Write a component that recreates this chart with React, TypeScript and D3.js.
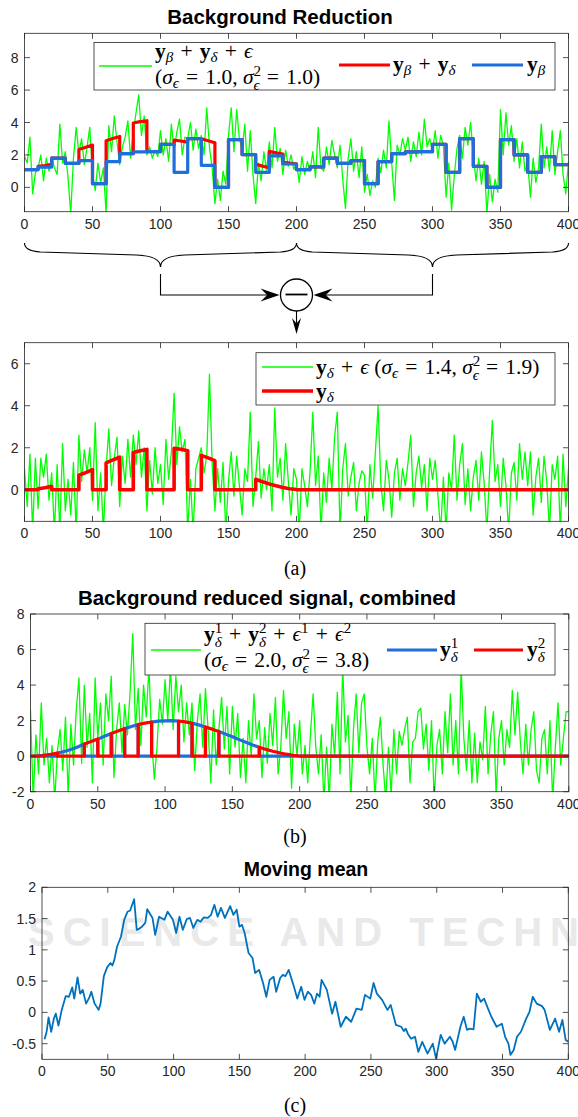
import React from 'react';
import * as d3 from 'd3';

// ---- data ----
const xTicks = [0, 50, 100, 150, 200, 250, 300, 350, 400];

// background y_beta, one level per block of 10 samples
const blockLevels = [
  1.1, 1.25, 1.8, 1.48, 1.65, 0.23, 1.59, 2.08, 2.19, 2.2,
  2.65, 0.93, 3.0, 1.36, 0.0, 2.95, 2.02, 0.93, 1.94, 1.44,
  1.1, 1.26, 1.8, 1.48, 1.65, 0.23, 1.59, 2.08, 2.19, 2.2,
  2.65, 0.93, 3.0, 1.3, 0.0, 2.95, 2.0, 0.93, 1.9, 1.4,
];

// signal envelope, x = 0..200 in steps of 5
const deltaCurve = [
  0.0, 0.02, 0.05, 0.1, 0.17, 0.26, 0.37, 0.52, 0.69, 0.82,
  0.96, 1.12, 1.28, 1.42, 1.55, 1.67, 1.78, 1.86, 1.92, 1.97,
  1.99, 2.0, 1.98, 1.93, 1.86, 1.76, 1.64, 1.52, 1.39, 1.24,
  1.09, 0.93, 0.78, 0.63, 0.5, 0.38, 0.28, 0.19, 0.11, 0.05, 0.01,
];

// blocks (of 10 samples) where y_delta / y_delta^2 is on
const deltaBlocks = [1, 4, 6, 8, 11, 13, 17, 18, 19];

// noisy signals, x = 0..400 in steps of 2
const noiseA = [
  1.9, 1.5, 3.1, -0.4, 0.9, 1.2, 2.0, 0.4, 1.8, 1.0,
  1.9, 1.2, 0.8, 3.9, 1.5, 2.2, 0.6, -1.6, 1.8, 3.7,
  2.1, 3.0, 1.4, 2.5, 3.7, 0.8, -0.2, 1.5, 0.3, 1.2,
  -1.6, 3.8, 2.2, 4.4, 2.8, 1.4, 2.5, 3.1, 4.1, 1.8,
  3.4, 4.6, 5.7, 3.2, 4.4, 2.0, 2.5, 1.8, 2.3, 1.9,
  3.5, 2.0, 3.0, 1.6, 3.9, 2.3, 3.4, 4.2, 2.0, 3.1,
  3.0, 4.0, 2.3, 3.6, 2.4, 3.2, 2.0, 4.9, 2.5, 1.2,
  -1.0, 0.5, -0.8, 1.0, 0.2, 3.2, 4.9, 2.2, 4.8, 3.0,
  2.3, 3.9, 1.0, 3.5, 0.8, -1.0, 1.5, 0.4, 2.2, 1.0,
  2.8, 1.2, 3.7, 1.6, 2.4, 0.8, 2.3, 1.3, 2.0, 1.1,
  1.5, 0.3, 1.9, 0.8, 1.6, 1.0, 2.2, 0.6, 3.7, 1.2,
  1.0, 2.5, 1.4, 2.9, 2.0, 1.2, 2.6, 0.5, -1.3, 1.8,
  3.0, 1.0, 2.2, 0.6, 2.5, -0.3, 0.8, -0.5, 0.4, 0.0,
  1.8, 0.9, 2.3, 1.2, 4.1, 1.5, -0.8, 2.6, 2.0, 3.0,
  2.3, 3.1, 1.6, 2.8, 1.9, 3.4, 2.0, 4.2, 2.5, 3.0,
  2.2, 3.5, 1.8, 3.2, 2.6, -0.6, 1.5, -1.4, 0.7, 2.4,
  3.2, 1.8, 3.7, 2.6, 4.0, 2.0, 0.4, 1.8, 0.2, 1.6,
  -1.6, 0.8, -0.9, 0.5, -0.3, 4.8, 2.0, 4.6, 2.6, 3.8,
  1.6, 3.0, 1.2, 2.8, 1.0, 1.5, -0.6, 1.8, 0.3, 1.2,
  3.9, 1.2, 2.5, 1.0, 3.5, 0.8, 2.2, 3.5, 0.8, -0.4,
  1.6,
];

const noiseB = [
  1.0, -0.8, 1.7, -2.0, 1.5, -0.9, 1.5, 0.6, 1.7, -0.5,
  0.8, -2.0, 1.2, -2.0, 2.2, -1.0, 0.5, -1.2, 1.3, -2.0,
  2.6, 0.4, 1.9, 0.8, 2.0, -0.5, 3.2, -1.0, 0.8, -2.0,
  1.0, 2.9, 0.2, 1.5, 2.5, -0.8, 1.6, 0.3, 2.4, 0.6,
  2.6, 1.2, 2.8, 0.6, 2.0, -1.0, 1.4, -0.2, 2.0, 0.3,
  1.2, -0.7, 2.4, 0.5, 1.8, 4.6, 1.2, 3.0, 1.8, 2.4,
  -2.0, 0.5, -2.0, 1.0, 1.5, 2.0, 0.8, 1.6, 5.5, 1.2,
  -1.0, 1.0, -0.6, 1.3, -2.0, 0.4, 1.8, -0.3, 1.6, 0.2,
  -1.2, 1.0, 0.4, 3.7, -0.8, 0.6, 2.3, -0.4, 1.0, 0.0,
  1.2, -1.0, 3.9, 0.6, 1.5, -0.5, 2.2, 0.4, -1.2, 1.0,
  0.5, -2.0, 1.0, 0.2, -0.8, 0.9, 3.7, 0.2, 1.6, -2.0,
  0.8, -0.6, 1.5, 0.0, 2.5, 3.7, -2.0, 1.0, 2.2, -0.3,
  0.6, 1.3, -1.0, 0.3, 0.9, 0.7, -2.0, 1.2, -0.4, 1.8,
  4.0, 0.3, -1.0, 1.4, 0.5, -1.3, 0.8, 1.5, -0.5, 1.0,
  0.2, 1.3, 2.6, -0.8, 0.8, 1.6, 0.1, 1.2, -1.0, 1.5,
  0.5, 1.4, -0.3, -2.0, 0.6, -2.0, 0.8, 0.0, 2.6, -0.5,
  1.2, 2.2, -0.7, 1.0, -1.0, 0.6, 1.4, -0.5, 1.8, 0.3,
  -2.0, 0.9, 3.3, 0.4, 1.2, -0.8, 1.5, 0.2, -2.0, 0.8,
  1.3, -0.5, 2.2, 0.5, 1.8, 0.2, 1.8, -1.2, 0.6, 1.5,
  -0.6, 1.6, 0.4, -2.0, 1.2, 0.5, 1.6, -2.0, 1.7, -0.8,
  1.0,
];

const noiseC = [
  2.6, -2.5, 1.2, -1.0, 3.0, -0.5, 1.0, -1.5, 0.6, -2.5,
  0.3, 1.5, -0.8, 2.2, -2.2, 1.8, -0.5, 2.6, 4.4, -0.4,
  4.0, 0.5, 2.4, -1.5, 4.4, 1.0, 3.0, -0.5, 3.5, 2.0,
  4.5, -1.2, 1.5, 3.0, 0.2, 2.9, 1.2, 3.6, 6.9, 1.5,
  3.8, 0.6, 4.0, 2.2, 5.0, 1.0, -1.3, 0.5, 3.2, 1.8,
  4.3, 2.0, 5.0, 1.5, 4.5, 2.5, 4.0, 0.8, 3.0, 1.2,
  3.0, -0.8, 2.0, 3.5, 0.5, 3.8, 1.5, -1.5, 2.6, -0.5,
  1.5, 3.3, 0.4, 2.8, -1.0, 2.8, 0.5, 2.4, -1.2, 1.0,
  -1.5, 2.0, 0.0, 3.5, 1.0, 2.0, -1.2, 1.6, -0.4, 2.4,
  0.6, 3.3, -1.0, 0.5, 3.7, 1.0, 2.5, -1.8, 1.8, 0.0,
  2.0, -1.0, 0.6, -1.5, 1.2, 3.5, 0.5, -1.0, 1.2, -2.5,
  0.5, -2.5, 1.8, 0.0, 3.6, -1.0, 5.0, 0.8, 2.3, -2.5,
  1.5, 3.5, 0.2, 3.0, 3.5, 0.5, -1.0, 1.0, -2.5, 0.8,
  2.2, -0.5, -2.5, 0.5, -2.2, 1.5, -1.0, 1.4, 0.6, 1.5,
  2.2, -1.5, 0.8, 1.0, 2.5, 2.7, 0.4, 1.8, -0.8, 2.0,
  -2.5, 0.6, 1.5, -1.0, 2.5, 0.2, 3.5, -0.5, 2.0, -1.0,
  5.0, 1.0, -0.8, 2.0, -1.5, 1.3, -1.5, 0.8, -0.2, 2.8,
  -1.0, 1.2, 2.5, -2.2, 1.0, 2.0, -0.5, 1.5, 0.5, 3.7,
  1.2, 3.6, 0.8, -1.0, 1.8, -0.5, 1.5, 2.5, -0.8, -1.5,
  1.0, 1.5, -1.0, 2.0, -2.5, 0.5, 3.0, -0.5, 1.0, 2.5,
  2.5,
];

// moving mean
const meanX = [
  2, 3.5, 5, 7, 9, 10.5, 12.5, 15, 18, 20.5,
  23, 24.5, 27, 29, 31, 33.5, 36, 37.5, 40, 43,
  44.5, 47, 49.5, 52, 53.5, 55, 57, 60, 62.5, 65,
  67, 70, 72, 74, 76, 78.5, 80, 84, 86, 89,
  93, 95.5, 99.5, 102, 104.5, 107, 110, 112.5, 115, 118,
  120.5, 123, 126, 128.5, 131, 133.5, 136, 139, 143, 145.5,
  148, 150, 152, 154, 157, 160, 162, 165, 168, 170.5,
  173, 176, 178, 181, 183, 185, 187.5, 191.5, 194, 197,
  199.5, 202, 204.5, 207, 209, 211, 212.5, 216.5, 220.5, 223,
  227, 231, 235, 239, 243, 245.5, 249.5, 252, 254.5, 258.5,
  262.5, 265, 269, 273, 275, 276.5, 278, 280.5, 283.5, 286,
  289, 293, 297, 299.5, 303, 306, 310, 312, 314, 318,
  320.5, 323, 325, 328, 330.5, 333.5, 336, 339, 341.5, 345.5,
  349.5, 352, 354.5, 356, 358.5, 361, 364, 368, 370.5, 373,
  376, 380, 382, 386, 390, 393, 395.5, 398, 400,
];
const meanY = [
  -0.43, -0.31, -0.08, -0.31, -0.1, -0.02, -0.21, 0.04, 0.26, 0.25,
  0.4, 0.22, 0.56, 0.3, 0.36, 0.14, 0.24, 0.33, 0.14, 0.04,
  0.14, 0.58, 0.72, 0.79, 0.75, 0.84, 1.05, 1.21, 1.48, 1.61,
  1.63, 1.81, 1.32, 1.34, 1.37, 1.43, 1.65, 1.51, 1.24, 1.53,
  1.48, 1.61, 1.48, 1.27, 1.53, 1.32, 1.49, 1.51, 1.35, 1.48,
  1.45, 1.52, 1.51, 1.56, 1.72, 1.53, 1.67, 1.51, 1.7, 1.56,
  1.64, 1.37, 1.4, 1.27, 0.95, 0.87, 0.63, 0.68, 0.47, 0.25,
  0.52, 0.57, 0.33, 0.55, 0.6, 0.58, 0.68, 0.41, 0.22, 0.41,
  0.2, 0.33, 0.28, 0.14, 0.3, 0.25, 0.52, 0.36, -0.02, 0.17,
  -0.23, -0.07, -0.15, 0.06, 0.04, 0.28, 0.22, 0.47, 0.3, 0.2,
  0.04, 0.12, -0.2, -0.23, -0.3, -0.26, -0.34, -0.42, -0.39, -0.63,
  -0.47, -0.66, -0.5, -0.74, -0.36, -0.5, -0.39, -0.46, -0.6, -0.23,
  -0.07, -0.28, -0.26, -0.27, 0.3, 0.17, 0.22, 0.06, -0.07, -0.23,
  -0.18, -0.39, -0.5, -0.68, -0.6, -0.39, -0.31, -0.1, 0.01, 0.25,
  0.14, 0.1, 0.04, -0.28, -0.1, -0.31, -0.12, -0.44, -0.47,
];

// ---- styling ----
const SANS = '"Liberation Sans", Arial, Helvetica, sans-serif';
const SERIF = '"Liberation Serif", "Times New Roman", "DejaVu Serif", serif';
const AX = '#262626';
const GREEN = '#00ff00';
const RED = '#ff0000';
const BLUE = '#1e6fdc';
const MBLUE = '#0072bd';
const LEG = 21.5; // legend font size
const SP = '\u2004'; // math spacing around + and =

type Pt = [number, number];
type Scale = d3.ScaleLinear<number, number>;

const env = (i: number) => (i < deltaCurve.length ? deltaCurve[i] : 0);

// y_delta with vertical jumps at block edges; on(b) says if block b carries the signal
function deltaPoints(on: (b: number) => boolean, base = false): Pt[] {
  const pts: Pt[] = [];
  blockLevels.forEach((lvl, b) => {
    const add = base ? lvl : 0;
    if (on(b)) {
      pts.push([b * 10, env(2 * b) + add], [b * 10 + 5, env(2 * b + 1) + add], [b * 10 + 10, env(2 * b + 2) + add]);
    } else {
      pts.push([b * 10, add], [b * 10 + 10, add]);
    }
  });
  return pts;
}

const levelPoints = (): Pt[] => [
  ...blockLevels.map((v, i) => [i * 10, v] as Pt),
  [400, blockLevels[blockLevels.length - 1]],
];
const noisePoints = (arr: number[]): Pt[] => arr.map((v, i) => [i * 2, v]);

function Frame({ x, y, yTicks, fmt = String }: { x: Scale; y: Scale; yTicks: number[]; fmt?: (v: number) => string }) {
  const [l, r] = x.range();
  const [b, t] = y.range();
  const tk = 5.5;
  return (
    <g stroke={AX} strokeWidth={0.8}>
      <rect x={l} y={t} width={r - l} height={b - t} fill="none" />
      {xTicks.map(v => (
        <g key={'x' + v}>
          <line x1={x(v)} x2={x(v)} y1={b} y2={b - tk} />
          <line x1={x(v)} x2={x(v)} y1={t} y2={t + tk} />
          <text x={x(v)} y={b + 17} textAnchor="middle" stroke="none" fill={AX} fontSize={14} fontFamily={SANS}>{v}</text>
        </g>
      ))}
      {yTicks.map(v => (
        <g key={'y' + v}>
          <line x1={l} x2={l + tk} y1={y(v)} y2={y(v)} />
          <line x1={r} x2={r - tk} y1={y(v)} y2={y(v)} />
          <text x={l - 6} y={y(v) + 5} textAnchor="end" stroke="none" fill={AX} fontSize={14} fontFamily={SANS}>{fmt(v)}</text>
        </g>
      ))}
    </g>
  );
}

type Tok = { s: string; w?: 'b' | 'i'; sub?: string; sup?: string };

function MathText({ x, y, toks, size = LEG }: { x: number; y: number; toks: Tok[]; size?: number }) {
  const small = size * 0.7;
  let shift = 0;
  const go = (target: number) => { const d = target - shift; shift = target; return d; };
  const out: React.ReactNode[] = [];
  toks.forEach((t, i) => {
    out.push(
      <tspan key={i + 'm'} dy={go(0)} fontSize={size} fontWeight={t.w === 'b' ? 'bold' : 'normal'} fontStyle={t.w === 'i' ? 'italic' : 'normal'}>{t.s}</tspan>
    );
    if (t.sup) out.push(<tspan key={i + 'p'} dy={go(-size * 0.38)} fontSize={small} fontWeight="normal" fontStyle="normal">{t.sup}</tspan>);
    if (t.sub) {
      const back = t.sup ? -small * 0.5 * t.sup.length : 0;
      out.push(<tspan key={i + 'b'} dx={back} dy={go(size * (t.sup ? 0.26 : 0.2))} fontSize={small} fontWeight="normal" fontStyle="italic">{t.sub}</tspan>);
    }
  });
  out.push(<tspan key="end" dy={go(0)}>{''}</tspan>);
  return <text x={x} y={y} fontFamily={SERIF} fill="#000" style={{ whiteSpace: 'pre' }}>{out}</text>;
}

const lineOf = (x: Scale, y: Scale) => d3.line<Pt>().x(d => x(d[0])).y(d => y(d[1]));

function Panel({ id, l, r, t, b, yDomain, yTicks, fmt, children }: {
  id: string; l: number; r: number; t: number; b: number; yDomain: [number, number]; yTicks: number[];
  fmt?: (v: number) => string; children: (x: Scale, y: Scale) => React.ReactNode;
}) {
  const x = d3.scaleLinear().domain([0, 400]).range([l, r]);
  const y = d3.scaleLinear().domain(yDomain).range([b, t]);
  return (
    <g>
      <defs>
        <clipPath id={id}><rect x={l} y={t} width={r - l} height={b - t} /></clipPath>
      </defs>
      <g clipPath={`url(#${id})`} fill="none" strokeLinejoin="round">{children(x, y)}</g>
      <Frame x={x} y={y} yTicks={yTicks} fmt={fmt} />
    </g>
  );
}

function Arrow({ tx, ty, dir, len, half }: { tx: number; ty: number; dir: 'r' | 'l' | 'd'; len: number; half: number }) {
  const notch = len * 0.65;
  let d = '';
  if (dir === 'r') d = `M${tx},${ty} L${tx - len},${ty - half} L${tx - notch},${ty} L${tx - len},${ty + half}Z`;
  if (dir === 'l') d = `M${tx},${ty} L${tx + len},${ty - half} L${tx + notch},${ty} L${tx + len},${ty + half}Z`;
  if (dir === 'd') d = `M${tx},${ty} L${tx - half},${ty - len} L${tx},${ty - notch} L${tx + half},${ty - len}Z`;
  return <path d={d} fill="#000" stroke="none" />;
}

function brace(xa: number, xb: number, yt: number, ya: number, yTip: number) {
  const xm = (xa + xb) / 2;
  return `M${xa},${yt} Q${xa},${ya - 2} ${xa + 16},${ya - 1} L${xm - 24},${ya + 2} Q${xm},${ya + 3} ${xm},${yTip}` +
    ` Q${xm},${ya + 3} ${xm + 24},${ya + 2} L${xb - 16},${ya - 1} Q${xb},${ya - 2} ${xb},${yt}`;
}

function Legend({ x0, y0, x1, y1, children }: { x0: number; y0: number; x1: number; y1: number; children: React.ReactNode }) {
  return (
    <g>
      <rect x={x0} y={y0} width={x1 - x0} height={y1 - y0} fill="#fff" stroke={AX} strokeWidth={0.8} />
      {children}
    </g>
  );
}

export default function App() {
  const W = 578, H = 1117;
  const yb: Tok = { s: 'y', w: 'b', sub: 'β' };
  const yd: Tok = { s: 'y', w: 'b', sub: 'δ' };
  const plus: Tok = { s: SP + '+' + SP };
  const eq = (v: string, close = false): Tok => ({ s: SP + '=' + SP + v + (close ? ')' : ', ') });
  const onDelta = (b: number) => deltaBlocks.includes(b);
  const offDelta = (b: number) => !deltaBlocks.includes(b);

  // geometry for the brace / subtraction diagram
  const dx = d3.scaleLinear().domain([0, 400]).range([24.5, 568.5]);
  const cx = dx(200), cy = 295, cr = 16;

  return (
    <svg width={W} height={H} style={{ position: 'absolute', left: 0, top: 0, background: '#fff' }}>
      <rect width={W} height={H} fill="#fff" />
      {/* faint watermark */}
      <text x={28} y={946} fontFamily={SANS} fontWeight="bold" fontSize={40} letterSpacing={8} fill="#e9e9e9">SCIENCE AND TECHNOLOGY</text>

      {/* ---------- panel 1 ---------- */}
      <text x={280} y={24} textAnchor="middle" fontFamily={SANS} fontWeight="bold" fontSize={20.5} fill="#000">Background Reduction</text>
      <Panel id="c1" l={24.5} r={568.5} t={33.3} b={211.7} yDomain={[-1.5, 9.5]} yTicks={[0, 2, 4, 6, 8]}>
        {(x, y) => {
          const ln = lineOf(x, y);
          return (
            <>
              <path d={ln(noisePoints(noiseA)) || ''} stroke={GREEN} strokeWidth={1.3} />
              <path d={ln(deltaPoints(onDelta, true)) || ''} stroke={RED} strokeWidth={3.2} />
              <path d={ln.curve(d3.curveStepAfter)(levelPoints()) || ''} stroke={BLUE} strokeWidth={3.2} />
            </>
          );
        }}
      </Panel>
      <Legend x0={94} y0={42.5} x1={555} y1={90}>
        <line x1={99} x2={152} y1={66} y2={66} stroke={GREEN} strokeWidth={1.3} />
        <MathText x={155} y={58} toks={[yb, plus, yd, plus, { s: 'ϵ', w: 'i' }]} />
        <MathText x={155} y={84} toks={[{ s: '(' }, { s: 'σ', w: 'i', sub: 'ϵ' }, eq('1.0'), { s: 'σ', w: 'i', sup: '2', sub: 'ϵ' }, eq('1.0', true)]} />
        <line x1={339} x2={390} y1={65} y2={65} stroke={RED} strokeWidth={3.2} />
        <MathText x={393} y={71} toks={[yb, plus, yd]} />
        <line x1={472} x2={523} y1={65} y2={65} stroke={BLUE} strokeWidth={3.2} />
        <MathText x={527} y={71} toks={[yb]} />
      </Legend>

      {/* ---------- braces and subtraction ---------- */}
      <g fill="none" stroke="#000" strokeWidth={1.1}>
        <path d={brace(dx(0), dx(200), 243, 253, 267)} />
        <path d={brace(dx(200), dx(400), 243, 253, 267)} />
        <path d={`M${dx(100)},274 V${cy} H${cx - cr - 4}`} />
        <path d={`M${dx(300)},274 V${cy} H${cx + cr + 4}`} />
        <circle cx={cx} cy={cy} r={cr} strokeWidth={1.3} />
        <line x1={cx - 11} x2={cx + 11} y1={cy - 0.5} y2={cy - 0.5} strokeWidth={1.8} />
        <line x1={cx} x2={cx} y1={cy + cr} y2={331} />
      </g>
      <Arrow tx={cx - cr - 1} ty={cy} dir="r" len={19} half={6.5} />
      <Arrow tx={cx + cr + 1} ty={cy} dir="l" len={19} half={6.5} />
      <Arrow tx={cx} ty={334} dir="d" len={16} half={4.5} />

      {/* ---------- panel 2 ---------- */}
      <Panel id="c2" l={24.5} r={568.5} t={342.7} b={521.3} yDomain={[-1.5, 7]} yTicks={[0, 2, 4, 6]}>
        {(x, y) => {
          const ln = lineOf(x, y);
          return (
            <>
              <path d={ln(noisePoints(noiseB)) || ''} stroke={GREEN} strokeWidth={1.3} />
              <path d={ln(deltaPoints(onDelta)) || ''} stroke={RED} strokeWidth={3.6} />
            </>
          );
        }}
      </Panel>
      <Legend x0={256} y0={352.7} x1={555} y1={405}>
        <line x1={262} x2={313} y1={367} y2={367} stroke={GREEN} strokeWidth={1.3} />
        <MathText x={316} y={374} toks={[yd, plus, { s: 'ϵ', w: 'i' }, { s: ' (' }, { s: 'σ', w: 'i', sub: 'ϵ' }, eq('1.4'), { s: 'σ', w: 'i', sup: '2', sub: 'ϵ' }, eq('1.9', true)]} />
        <line x1={262} x2={313} y1={391} y2={391} stroke={RED} strokeWidth={3.6} />
        <MathText x={316} y={398} toks={[yd]} />
      </Legend>
      <text x={295} y={575} textAnchor="middle" fontFamily={SERIF} fontSize={20} fill="#000">(a)</text>

      {/* ---------- panel 3 ---------- */}
      <text x={267} y={605} textAnchor="middle" fontFamily={SANS} fontWeight="bold" fontSize={20.5} fill="#000">Background reduced signal, combined</text>
      <Panel id="c3" l={30.5} r={568.8} t={614} b={791.7} yDomain={[-2, 8]} yTicks={[-2, 0, 2, 4, 6, 8]}>
        {(x, y) => {
          const ln = lineOf(x, y);
          return (
            <>
              <path d={ln(noisePoints(noiseC)) || ''} stroke={GREEN} strokeWidth={1.3} />
              <path d={ln(deltaPoints(offDelta)) || ''} stroke={BLUE} strokeWidth={3.2} />
              <path d={ln(deltaPoints(onDelta)) || ''} stroke={RED} strokeWidth={3.2} />
            </>
          );
        }}
      </Panel>
      <Legend x0={145} y0={623.3} x1={555} y1={675}>
        <line x1={151} x2={201} y1={650} y2={650} stroke={GREEN} strokeWidth={1.3} />
        <MathText x={204} y={641} toks={[
          { s: 'y', w: 'b', sup: '1', sub: 'δ' }, plus, { s: 'y', w: 'b', sup: '2', sub: 'δ' }, plus,
          { s: 'ϵ', w: 'i', sup: '1' }, plus, { s: 'ϵ', w: 'i', sup: '2' },
        ]} />
        <MathText x={204} y={667} toks={[{ s: '(' }, { s: 'σ', w: 'i', sub: 'ϵ' }, eq('2.0'), { s: 'σ', w: 'i', sup: '2', sub: 'ϵ' }, eq('3.8', true)]} />
        <line x1={387} x2={437} y1={650} y2={650} stroke={BLUE} strokeWidth={3.2} />
        <MathText x={440} y={656} toks={[{ s: 'y', w: 'b', sup: '1', sub: 'δ' }]} />
        <line x1={474} x2={523} y1={650} y2={650} stroke={RED} strokeWidth={3.2} />
        <MathText x={527} y={656} toks={[{ s: 'y', w: 'b', sup: '2', sub: 'δ' }]} />
      </Legend>
      <text x={295} y={843} textAnchor="middle" fontFamily={SERIF} fontSize={20} fill="#000">(b)</text>

      {/* ---------- panel 4 ---------- */}
      <text x={306} y={876} textAnchor="middle" fontFamily={SANS} fontWeight="bold" fontSize={19.5} fill="#000">Moving mean</text>
      <Panel id="c4" l={42} r={568.3} t={887.3} b={1059.3} yDomain={[-0.75, 2]} yTicks={[-0.5, 0, 0.5, 1, 1.5, 2]}>
        {(x, y) => {
          const ln = lineOf(x, y);
          const pts = meanX.map((v, i) => [v, meanY[i]] as Pt);
          return <path d={ln(pts) || ''} stroke={MBLUE} strokeWidth={1.8} />;
        }}
      </Panel>
      <text x={295} y={1112} textAnchor="middle" fontFamily={SERIF} fontSize={20} fill="#000">(c)</text>
    </svg>
  );
}
